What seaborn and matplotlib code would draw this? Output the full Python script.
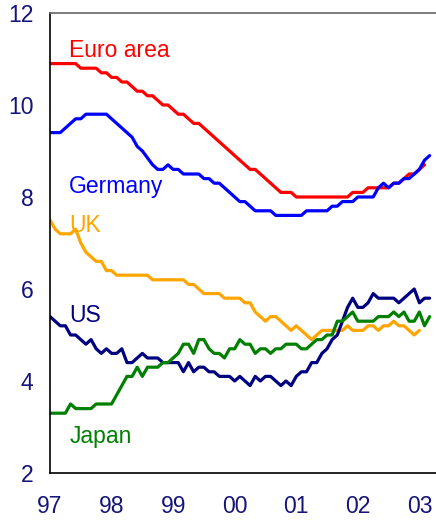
import matplotlib
matplotlib.use("Agg")
import matplotlib.pyplot as plt
import numpy as np
import pandas as pd
import seaborn as sns

# monthly values, Jan 1997 onwards
euro_area = [10.9, 10.9, 10.9, 10.9, 10.9, 10.9, 10.8, 10.8, 10.8, 10.8,
             10.7, 10.7, 10.6, 10.6, 10.5, 10.5, 10.4, 10.3, 10.3, 10.2,
             10.2, 10.1, 10.0, 10.0, 9.9, 9.8, 9.8, 9.7, 9.6, 9.6,
             9.5, 9.4, 9.3, 9.2, 9.1, 9.0, 8.9, 8.8, 8.7, 8.6,
             8.6, 8.5, 8.4, 8.3, 8.2, 8.1, 8.1, 8.1, 8.0, 8.0,
             8.0, 8.0, 8.0, 8.0, 8.0, 8.0, 8.0, 8.0, 8.0, 8.1,
             8.1, 8.1, 8.2, 8.2, 8.2, 8.2, 8.2, 8.3, 8.3, 8.4,
             8.5, 8.5, 8.6, 8.7]
germany = [9.4, 9.4, 9.4, 9.5, 9.6, 9.7, 9.7, 9.8, 9.8, 9.8,
           9.8, 9.8, 9.7, 9.6, 9.5, 9.4, 9.3, 9.1, 9.0, 8.85,
           8.7, 8.6, 8.6, 8.7, 8.6, 8.6, 8.5, 8.5, 8.5, 8.5,
           8.4, 8.4, 8.3, 8.3, 8.2, 8.1, 8.0, 7.9, 7.9, 7.8,
           7.7, 7.7, 7.7, 7.7, 7.6, 7.6, 7.6, 7.6, 7.6, 7.6,
           7.7, 7.7, 7.7, 7.7, 7.7, 7.8, 7.8, 7.9, 7.9, 7.9,
           8.0, 8.0, 8.0, 8.0, 8.2, 8.3, 8.2, 8.3, 8.3, 8.4,
           8.4, 8.5, 8.6, 8.8, 8.9]
uk = [7.5, 7.3, 7.2, 7.2, 7.2, 7.3, 7.0, 6.8, 6.7, 6.6,
      6.6, 6.4, 6.4, 6.3, 6.3, 6.3, 6.3, 6.3, 6.3, 6.3,
      6.2, 6.2, 6.2, 6.2, 6.2, 6.2, 6.2, 6.1, 6.1, 6.0,
      5.9, 5.9, 5.9, 5.9, 5.8, 5.8, 5.8, 5.8, 5.7, 5.7,
      5.5, 5.4, 5.3, 5.4, 5.4, 5.3, 5.2, 5.1, 5.2, 5.1,
      5.0, 4.9, 5.0, 5.1, 5.1, 5.1, 5.1, 5.1, 5.2, 5.1,
      5.1, 5.1, 5.2, 5.2, 5.1, 5.2, 5.2, 5.3, 5.2, 5.2,
      5.1, 5.0, 5.1]
us = [5.4, 5.3, 5.2, 5.2, 5.0, 5.0, 4.9, 4.8, 4.9, 4.7,
      4.6, 4.7, 4.6, 4.6, 4.7, 4.4, 4.4, 4.5, 4.6, 4.5,
      4.5, 4.5, 4.4, 4.4, 4.4, 4.4, 4.2, 4.4, 4.2, 4.3,
      4.3, 4.2, 4.2, 4.1, 4.1, 4.1, 4.0, 4.1, 4.0, 3.9,
      4.1, 4.0, 4.1, 4.1, 4.0, 3.9, 4.0, 3.9, 4.1, 4.2,
      4.2, 4.4, 4.4, 4.6, 4.7, 4.9, 5.0, 5.3, 5.6, 5.8,
      5.6, 5.6, 5.7, 5.9, 5.8, 5.8, 5.8, 5.8, 5.7, 5.8,
      5.9, 6.0, 5.7, 5.8, 5.8]
japan = [3.3, 3.3, 3.3, 3.3, 3.5, 3.4, 3.4, 3.4, 3.4, 3.5,
         3.5, 3.5, 3.5, 3.7, 3.9, 4.1, 4.1, 4.3, 4.1, 4.3,
         4.3, 4.3, 4.4, 4.4, 4.5, 4.6, 4.8, 4.8, 4.6, 4.9,
         4.9, 4.7, 4.6, 4.6, 4.5, 4.7, 4.7, 4.9, 4.8, 4.8,
         4.6, 4.7, 4.7, 4.6, 4.7, 4.7, 4.8, 4.8, 4.8, 4.7,
         4.7, 4.8, 4.9, 4.9, 5.0, 5.0, 5.3, 5.3, 5.4, 5.5,
         5.3, 5.3, 5.3, 5.3, 5.4, 5.4, 5.4, 5.5, 5.4, 5.5,
         5.3, 5.3, 5.5, 5.2, 5.4]

names = ["Euro area", "Germany", "UK", "US", "Japan"]
colors = ["#ff0000", "#0000ff", "#ffa500", "#000080", "#008000"]
year_ticks = [1997, 1998, 1999, 2000, 2001, 2002, 2003]
year_labels = ["97", "98", "99", "00", "01", "02", "03"]
y_ticks = [2, 4, 6, 8, 10, 12]

frames = []
for name, vals in zip(names, [euro_area, germany, uk, us, japan]):
    frames.append(pd.DataFrame({
        "year": 1997 + np.arange(len(vals)) / 12.0,
        "rate": vals,
        "series": name,
    }))
df = pd.concat(frames, ignore_index=True)

sns.set_style("white")
plt.rcParams["font.family"] = ["Liberation Sans", "DejaVu Sans"]

fig = plt.figure(figsize=(4.36, 5.2), dpi=100)
ax = fig.add_axes([0.1147, 0.0904, 0.8853, 0.8846])

sns.lineplot(data=df, x="year", y="rate", hue="series", hue_order=names,
             palette=colors, linewidth=2.3, legend=False, ax=ax)

ax.set_xlim(1997, 2003.27)
ax.set_ylim(2, 12)
ax.set_xticks(year_ticks)
ax.set_xticklabels(year_labels)
ax.set_yticks(y_ticks)
ax.set_xlabel("")
ax.set_ylabel("")

tick_col = "#14147a"
ax.tick_params(axis="both", direction="in", length=6, width=1,
               color="#333333", labelsize=16.5, labelcolor=tick_col)
ax.tick_params(axis="x", pad=15.5)
ax.tick_params(axis="y", pad=12)

for side in ["left", "bottom"]:
    ax.spines[side].set_color("black")
    ax.spines[side].set_linewidth(1.2)
ax.spines["top"].set_color("#666666")
ax.spines["top"].set_linewidth(1.2)
ax.spines["right"].set_visible(False)

# series labels
label_pos = [0.904, 0.609, 0.524, 0.328, 0.065]
for name, col, yp in zip(names, colors, label_pos):
    ax.text(0.05, yp, name, color=col, fontsize=16.5,
            transform=ax.transAxes, va="baseline", ha="left")

fig.savefig("out.png", dpi=100)
